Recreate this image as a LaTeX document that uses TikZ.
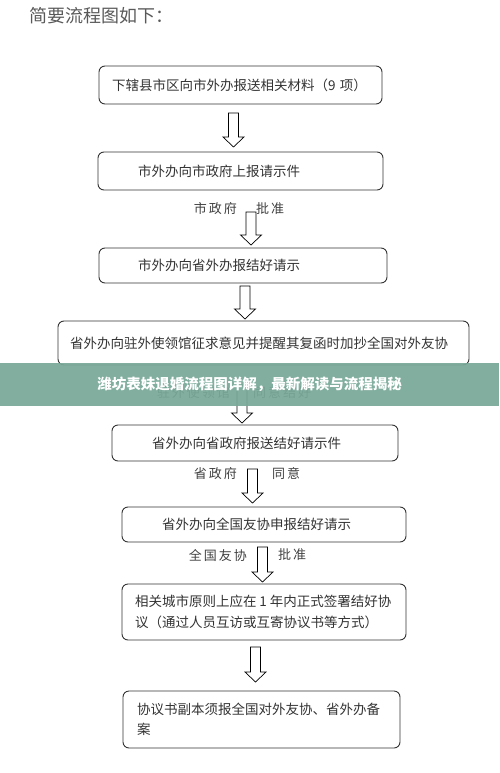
\documentclass[tikz,border=0pt]{standalone}
\usepackage{fontspec}
\setmainfont{Noto Sans CJK SC}
\newfontfamily\labelfont[LetterSpace=15]{Noto Sans CJK SC}
\usepackage{xcolor}
\usepackage{tikz}
\usetikzlibrary{calc}
\definecolor{boxline}{HTML}{333333}
\definecolor{bandgreen}{HTML}{78A898}

\newcommand{\bigarrow}[2]{%
  \draw[hollowarrow] let \p1=(#1), \p2=(#2) in
    (\x1-5,\y1) -- (\x1+5,\y1) -- (\x1+5,\y2+10) -- (\x1+10.5,\y2+10)
    -- (\x1,\y2) -- (\x1-10.5,\y2+10) -- (\x1-5,\y2+10) -- cycle;}

\begin{document}
\begin{tikzpicture}[x=1pt,y=-1pt,
    box/.style={draw=boxline, line width=.9pt, rounded corners=6pt, align=left,
      text=boxline, font=\fontsize{13.5}{20.5}\selectfont, inner ysep=0pt},
    remark/.style={text=black!75, font=\labelfont\fontsize{13}{15}\selectfont, inner sep=0pt},
    hollowarrow/.style={draw=black, line width=.7pt, fill=white, line join=miter}]
  \useasboundingbox (0,0) rectangle (499,773);

  \node[anchor=west, text=black!65, font=\fontsize{18}{20}\selectfont, inner sep=0pt] (title) at (29,16) {简要流程图如下：};

  \node[box, minimum height=38, inner xsep=13, text width=257] (b1) at (240.5,85) {下辖县市区向市外办报送相关材料（9 项）};
  \node[box, minimum height=38, inner xsep=40, text width=205] (b2) at (240.5,171) {市外办向市政府上报请示件};
  \node[box, minimum height=35, inner xsep=39, text width=210] (b3) at (243,265.5) {市外办向省外办报结好请示};
  \node[box, minimum height=44, inner xsep=12, text width=387] (b4) at (263.5,343) {省外办向驻外使领馆征求意见并提醒其复函时加抄全国对外友协};
  \node[box, minimum height=36, inner xsep=40, text width=206] (b5) at (255,443) {省外办向省政府报送结好请示件};
  \node[box, minimum height=35, inner xsep=40, text width=204] (b6) at (264,524.5) {省外办向全国友协申报结好请示};
  \node[box, minimum height=56, inner xsep=13, text width=258] (b7) at (264,612) {相关城市原则上应在\kern3pt1\kern3pt年内正式签署结好协\\议（通过人员互访或互寄协议书等方式）};
  \node[box, minimum height=57, inner xsep=14, text width=249] (b8) at (261.5,719.5) {协议书副本须报全国对外友协、省外办备\\案};

  % labels beside the arrows
  \node[remark, anchor=east] (l2a) at (237,209) {市政府};
  \node[remark, anchor=west] (l2b) at (256,209) {批准};
  \node[remark, anchor=east] (l4a) at (230,393) {驻外使领馆};
  \node[remark, anchor=west] (l4b) at (253,393) {同意结好};
  \node[remark, anchor=east] (l5a) at (237,474) {省政府};
  \node[remark, anchor=west] (l5b) at (272,474) {同意};
  \node[remark, anchor=east] (l6a) at (247,555) {全国友协};
  \node[remark, anchor=west] (l6b) at (278,555) {批准};

  \coordinate (s1) at (233.5,113); \coordinate (e1) at (233.5,147);
  \coordinate (s2) at (251,212);   \coordinate (e2) at (251,245);
  \coordinate (s3) at (245,286);   \coordinate (e3) at (245,319);
  \coordinate (s4) at (242,385);   \coordinate (e4) at (242,423);
  \coordinate (s5) at (252.5,469); \coordinate (e5) at (252.5,503);
  \coordinate (s6) at (262.5,547); \coordinate (e6) at (262.5,582);
  \coordinate (s7) at (255.5,647); \coordinate (e7) at (255.5,682);
  \foreach \i in {1,...,7}{\bigarrow{s\i}{e\i}}

  % overlay band
  \node[fill=bandgreen, fill opacity=.93, text opacity=1, text=white, minimum width=499, minimum height=43,
    inner sep=0pt, font=\bfseries\fontsize{14.5}{16}\selectfont] (band) at (249.5,384.5) {潍坊表妹退婚流程图详解，最新解读与流程揭秘};
\end{tikzpicture}
\end{document}
